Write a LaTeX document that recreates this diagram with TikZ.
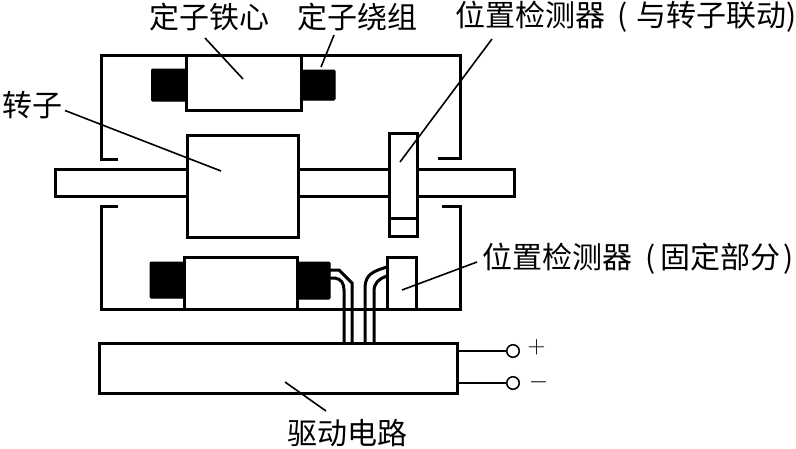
\documentclass[tikz,border=0pt]{standalone}
\usepackage{fontspec}
\newfontfamily\cjk{Noto Sans CJK SC}
\tikzset{
  part/.style={draw=black, fill=white, line width=3pt, inner sep=0pt, outer sep=0pt},
  coil/.style={draw=black, fill=black, line width=1pt, rounded corners=1pt, inner sep=0pt, outer sep=0pt},
  housing/.style={draw=black, line width=3pt, line join=miter},
  wire/.style={draw=black, line width=3pt},
  leader/.style={draw=black, line width=1.6pt},
  thinwire/.style={draw=black, line width=1.8pt},
  terminal/.style={circle, draw=black, fill=white, line width=1.5pt, minimum size=12.5pt, inner sep=0pt, outer sep=0pt},
  tag/.style={font=\cjk\fontsize{30}{32}\selectfont, inner sep=0pt, outer sep=0pt, text=black}
}
\begin{document}
\begin{tikzpicture}[x=1pt,y=-1pt]
\useasboundingbox (0,0) rectangle (796,448);
% housing
\draw[housing] (118,159) -- (101,159) -- (101,55.5) -- (460,55.5) -- (460,158) -- (438,158);
\draw[housing] (118,206.5) -- (101,206.5) -- (101,309.5) -- (460,309.5) -- (460,206.5) -- (442,206.5);
% shaft
\node[part, minimum width=459pt, minimum height=27pt] (shaft) at (284.5,182.5) {};
% upper stator
\node[coil, minimum width=35pt, minimum height=32pt] (coilUL) at (169,85) {};
\node[coil, minimum width=34pt, minimum height=30pt] (coilUR) at (318,85) {};
\node[part, minimum width=115pt, minimum height=55pt] (statorU) at (244,82.5) {};
% rotor
\node[part, minimum width=111pt, minimum height=102pt] (rotor) at (242.5,186) {};
% moving detector
\node[part, minimum width=28pt, minimum height=103pt] (detM) at (403,184.5) {};
\draw[wire] (detM.west |- 0,218) -- (detM.east |- 0,218);
% lower stator
\node[coil, minimum width=34pt, minimum height=36pt] (coilLL) at (167,280) {};
\node[coil, minimum width=33pt, minimum height=37pt] (coilLR) at (313.5,280.5) {};
\node[part, minimum width=113pt, minimum height=52pt] (statorL) at (240.5,283) {};
% fixed detector
\node[part, minimum width=29pt, minimum height=52pt] (detF) at (401.5,283) {};
% driver
\node[part, minimum width=358pt, minimum height=50pt] (driver) at (278,368) {};
% wires
\draw[wire] (coilLR.east |- 0,270) -- (339,270) -- (352,283) -- (352,343);
\draw[wire] (coilLR.east |- 0,278) -- (335,278) .. controls (341,279) and (344,283) .. (344,290) -- (344,343);
\draw[wire] (detF.west |- 0,267) .. controls (374,271) and (365,274) .. (365,288) -- (365,343);
\draw[wire] (detF.west |- 0,276) .. controls (379,279) and (374,282) .. (374,292) -- (374,343);
% terminals
\node[terminal] (plus) at (513,351) {};
\node[terminal] (minus) at (513,383) {};
\draw[thinwire] (driver.east |- plus) -- (plus);
\draw[thinwire] (driver.east |- minus) -- (minus);
\node[tag, font=\fontsize{27}{29}\selectfont] (plussign) at (536.5,347) {$+$};
\node[tag, font=\fontsize{27}{29}\selectfont] (minussign) at (538.5,382) {$-$};
% labels
\node[tag] (tagCore) at (209,17) {定子铁心};
\node[tag] (tagCoil) at (357.5,17) {定子绕组};
\node[tag, anchor=west] (tagDetM) at (455,17) {位置检测器\hspace{13pt}(\hspace{8pt}与转子联动)};
\node[tag] (tagRotor) at (32,105) {转子};
\node[tag, anchor=west] (tagDetF) at (482.5,259) {位置检测器\hspace{13pt}(\hspace{4.5pt}固定部分\hspace{3pt})};
\node[tag] (tagDriver) at (347.5,433) {驱动电路};
% leaders
\coordinate (fromCore) at (205,38);
\coordinate (ptCore) at (243,79);
\coordinate (fromCoil) at (334,35);
\coordinate (ptCoil) at (321,67);
\coordinate (fromDetM) at (492,39);
\coordinate (ptDetM) at (400,162);
\coordinate (fromRotor) at (65,110.5);
\coordinate (ptRotor) at (221,171);
\coordinate (fromDetF) at (477,262);
\coordinate (ptDetF) at (402,290);
\coordinate (fromDriver) at (326,411);
\coordinate (ptDriver) at (285,382);
\draw[leader] (fromCore) -- (ptCore);
\draw[leader] (fromCoil) -- (ptCoil);
\draw[leader] (fromDetM) -- (ptDetM);
\draw[leader] (fromRotor) -- (ptRotor);
\draw[leader] (fromDetF) -- (ptDetF);
\draw[leader] (fromDriver) -- (ptDriver);
\end{tikzpicture}
\end{document}
